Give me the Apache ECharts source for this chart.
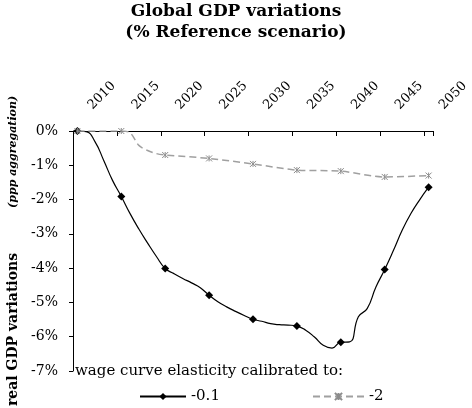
<!DOCTYPE html>
<html><head><meta charset="utf-8">
<script src="https://cdn.jsdelivr.net/npm/echarts@6.0.0/dist/echarts.min.js"></script>
<style>html,body{margin:0;padding:0;background:#fff}#c{width:472px;height:408px}</style>
</head><body><div id="c"></div>
<script>
// Categories (annual), labelled every 5 years
const years = ['2010','2011','2012','2013','2014','2015','2016','2017','2018','2019',
  '2020','2021','2022','2023','2024','2025','2026','2027','2028','2029',
  '2030','2031','2032','2033','2034','2035','2036','2037','2038','2039',
  '2040','2041','2042','2043','2044','2045','2046','2047','2048','2049','2050'];

// Series names (wage curve elasticity)
const seriesNames = ['-0.1', '-2'];

// Real GDP variation, % of reference scenario, elasticity -0.1
const gdpElast01 = [0, -0.02, -0.31, -0.86, -1.44, -1.91, -2.41, -2.86, -3.27, -3.66,
  -4.01, -4.16, -4.30, -4.43, -4.57, -4.79, -4.98, -5.13, -5.26, -5.38,
  -5.49, -5.55, -5.62, -5.65, -5.66, -5.69, -5.81, -6.01, -6.25, -6.33,
  -6.16, -6.15, -5.42, -5.18, -4.55, -4.04, -3.48, -2.89, -2.40, -2.00, -1.64];

// Real GDP variation, % of reference scenario, elasticity -2 (null = not read)
const gdpElast2 = [0, 0, 0, 0, 0, 0, -0.05, -0.42, -0.57, -0.66,
  -0.70, null, null, null, null, -0.80, null, null, null, null,
  -0.96, null, null, null, null, -1.14, null, null, null, null,
  -1.17, null, null, null, null, -1.34, null, null, null, null, -1.30];

const markerStep = 5;
const FONT = 'DejaVu Serif';

function withMarkers(arr, sym) {
  return arr.map((v, i) => v === null ? null : { value: v, symbol: (i % markerStep === 0) ? sym : 'none' });
}

const starPath = 'path://M0,0L10,10M10,0L0,10M5,0L5,10';

const chart = echarts.init(document.getElementById('c'), null, { renderer: 'canvas' });
chart.setOption({
  animation: false,
  backgroundColor: '#fff',
  textStyle: { fontFamily: FONT, color: '#000' },
  title: [
    {
      text: 'Global GDP variations\n(% Reference scenario)',
      left: 'center', top: 1, padding: 0,
      textStyle: { fontFamily: FONT, fontWeight: 'bold', fontSize: 17, lineHeight: 21, color: '#000' }
    },
    {
      text: 'wage curve elasticity calibrated to:',
      left: 75, top: 364, padding: 0,
      textStyle: { fontFamily: FONT, fontWeight: 'normal', fontSize: 15, color: '#000' }
    }
  ],
  legend: [
    {
      data: [seriesNames[0]], left: 139, top: 389, itemWidth: 46, itemHeight: 9, itemGap: 0,
      padding: 0, selectedMode: false,
      textStyle: { fontFamily: FONT, fontSize: 15, color: '#000' }
    },
    {
      data: [seriesNames[1]], left: 312, top: 389, itemWidth: 51, itemHeight: 9, itemGap: 0,
      padding: 0, selectedMode: false,
      textStyle: { fontFamily: FONT, fontSize: 15, color: '#000' }
    }
  ],
  grid: { left: 73, right: 39, top: 131, bottom: 37, containLabel: false, outerBoundsMode: 'none' },
  xAxis: {
    type: 'category',
    position: 'top',
    data: years,
    boundaryGap: true,
    axisLine: { show: true, lineStyle: { color: '#000', width: 1 } },
    axisTick: { show: true, inside: true, length: 5, interval: markerStep - 1, lineStyle: { color: '#000' } },
    axisLabel: {
      interval: markerStep - 1, rotate: 45, margin: 11, padding: [0, 0, 0, 18],
      fontFamily: FONT, fontSize: 13, color: '#000'
    },
    splitLine: { show: false }
  },
  yAxis: {
    type: 'value',
    min: -7, max: 0, interval: 1,
    axisLine: { show: true, lineStyle: { color: '#000', width: 1 } },
    axisTick: { show: true, inside: false, length: 4, lineStyle: { color: '#000' } },
    axisLabel: { formatter: v => v + '%', margin: 15, fontFamily: FONT, fontSize: 14, color: '#000' },
    splitLine: { show: false },
    name: '{a|real GDP variations}{g|}{b|(ppp aggregation)}',
    nameLocation: 'middle',
    nameRotate: 90,
    nameGap: 53,
    nameTextStyle: {
      rich: {
        a: { fontFamily: FONT, fontWeight: 'bold', fontSize: 14, color: '#000' },
        g: { width: 45 },
        b: { fontFamily: FONT, fontWeight: 'bold', fontStyle: 'italic', fontSize: 11, color: '#000' }
      }
    }
  },
  series: [
    {
      name: seriesNames[0],
      type: 'line',
      smooth: 0.5,
      showAllSymbol: true,
      symbol: 'diamond',
      symbolSize: 8,
      data: withMarkers(gdpElast01, 'diamond'),
      lineStyle: { color: '#000', width: 1.2 },
      itemStyle: { color: '#000' },
      emphasis: { disabled: true },
      z: 2
    },
    {
      name: seriesNames[1],
      type: 'line',
      smooth: 0.3,
      connectNulls: true,
      showAllSymbol: true,
      symbol: starPath,
      symbolSize: 6,
      data: withMarkers(gdpElast2, starPath),
      lineStyle: { color: '#a0a0a0', width: 1.5, type: [7, 4] },
      itemStyle: { color: '#8c8c8c', borderColor: '#8c8c8c', borderWidth: 1 },
      emphasis: { disabled: true },
      z: 3
    }
  ]
});
</script>
</body></html>
